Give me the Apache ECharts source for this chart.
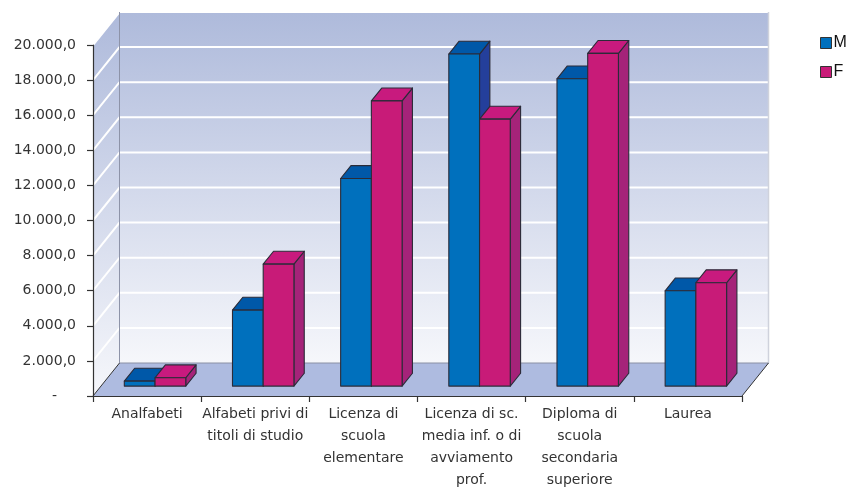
<!DOCTYPE html>
<html><head><meta charset="utf-8">
<script src="https://cdn.jsdelivr.net/npm/echarts@6/dist/echarts.min.js"></script>
<style>html,body{margin:0;padding:0;background:#fff}#c{width:848px;height:487px}</style>
</head><body><div id="c"></div>
<script>
const categories = ['Analfabeti', 'Alfabeti privi di\ntitoli di studio', 'Licenza di\nscuola\nelementare', 'Licenza di sc.\nmedia inf. o di\navviamento\nprof.', 'Diploma di\nscuola\nsecondaria\nsuperiore', 'Laurea'];
const seriesNames = ['M', 'F'];
const valuesM = [285, 4330, 11830, 18920, 17510, 5430];
const valuesF = [475, 6950, 16250, 15210, 18960, 5890];
const yTicks = [0, 2000, 4000, 6000, 8000, 10000, 12000, 14000, 16000, 18000, 20000];

const DEPTH = [26.5, -33];
const BAR_FRONT = 0.30, BAR_BACK = 0.69, BAR_W = 0.284;
const COLORS = {
  M: {front: '#0070BD', top: '#0058A8', side: '#243F9B'},
  F: {front: '#C81B78', top: '#C81A7E', side: '#A52379'}
};
const EDGE = '#2b2b38';

function fmt(v) {
  if (v === 0) return '{z|-}';
  const s = String(Math.round(v)).replace(/\B(?=(\d{3})+(?!\d))/g, '.');
  return s + ',0';
}

function renderWalls(params, api) {
  const cs = params.coordSys;
  const L = cs.x, R = cs.x + cs.width, T = cs.y, B = cs.y + cs.height;
  const dx = DEPTH[0], dy = DEPTH[1];
  const ch = [];
  const g1 = new echarts.graphic.LinearGradient(0, 0, 0, 1, [{offset: 0, color: '#AEBADB'}, {offset: 1, color: '#F6F7FB'}]);
  const g2 = new echarts.graphic.LinearGradient(0, 0, 0, 1, [{offset: 0, color: '#AEBADB'}, {offset: 1, color: '#F6F7FB'}]);
  ch.push({type: 'polygon', shape: {points: [[L, T], [L + dx, T + dy], [L + dx, B + dy], [L, B]]}, style: {fill: g1}});
  ch.push({type: 'rect', shape: {x: L + dx, y: T + dy, width: cs.width, height: cs.height}, style: {fill: g2}});
  yTicks.forEach(function (v) {
    if (v === 0) return;
    const y = api.coord([0, v])[1];
    ch.push({type: 'polyline', shape: {points: [[L, y], [L + dx, y + dy], [R + dx, y + dy]]}, style: {stroke: '#ffffff', lineWidth: 2, fill: null}});
  });
  ch.push({type: 'line', shape: {x1: L + dx, y1: T + dy, x2: L + dx, y2: B + dy}, style: {stroke: '#8d93a8', lineWidth: 1}});
  ch.push({type: 'line', shape: {x1: R + dx, y1: T + dy, x2: R + dx, y2: B + dy}, style: {stroke: '#cfd2dc', lineWidth: 1.5}});
  ch.push({type: 'polygon', shape: {points: [[L, B], [R, B], [R + dx, B + dy], [L + dx, B + dy]]}, style: {fill: '#AEBBE0'}});
  ch.push({type: 'line', shape: {x1: L + dx, y1: B + dy, x2: R + dx, y2: B + dy}, style: {stroke: '#8a90a4', lineWidth: 1}});
  ch.push({type: 'line', shape: {x1: L, y1: B, x2: L + dx, y2: B + dy}, style: {stroke: '#333', lineWidth: 1}});
  ch.push({type: 'line', shape: {x1: R, y1: B, x2: R + dx, y2: B + dy}, style: {stroke: '#333', lineWidth: 1}});
  return {type: 'group', children: ch};
}

function makeBarRenderer(name, side) {
  const c = COLORS[name];
  return function (params, api) {
    const i = api.value(0), v = api.value(1);
    const p0 = api.coord([i, 0]);
    const p1 = api.coord([i, v]);
    const cw = api.size([1, 0])[0];
    const bw = cw * BAR_W;
    const fx = BAR_FRONT * DEPTH[0], fy = BAR_FRONT * DEPTH[1];
    const ddx = (BAR_BACK - BAR_FRONT) * DEPTH[0], ddy = (BAR_BACK - BAR_FRONT) * DEPTH[1];
    const x0 = p0[0] + (side < 0 ? -bw : 0) + fx;
    const x1 = x0 + bw;
    const yb = p0[1] + fy, yt = p1[1] + fy;
    const st = {stroke: EDGE, lineWidth: 1.1, lineJoin: 'round'};
    return {type: 'group', children: [
      {type: 'polygon', shape: {points: [[x1, yt], [x1 + ddx, yt + ddy], [x1 + ddx, yb + ddy], [x1, yb]]}, style: Object.assign({fill: c.side}, st)},
      {type: 'polygon', shape: {points: [[x0, yt], [x1, yt], [x1 + ddx, yt + ddy], [x0 + ddx, yt + ddy]]}, style: Object.assign({fill: c.top}, st)},
      {type: 'rect', shape: {x: x0, y: yt, width: bw, height: yb - yt}, style: Object.assign({fill: c.front}, st)}
    ]};
  };
}

const chart = echarts.init(document.getElementById('c'), null, {renderer: 'canvas'});
chart.setOption({
  animation: false,
  backgroundColor: '#ffffff',
  textStyle: {fontFamily: 'DejaVu Sans'},
  grid: {left: 93, right: 106, top: 45, bottom: 91, containLabel: false, outerBoundsMode: 'none'},
  legend: {
    data: seriesNames, orient: 'vertical', left: 820, top: 35, padding: 0,
    itemWidth: 11, itemHeight: 11, itemGap: 13, icon: 'rect',
    itemStyle: {borderColor: '#333', borderWidth: 1},
    textStyle: {fontFamily: 'Liberation Sans', fontSize: 16, color: '#111', padding: [0, 0, 0, -3]}
  },
  xAxis: {
    type: 'category', data: categories, z: 5,
    axisLine: {lineStyle: {color: '#333', width: 1.2}},
    axisTick: {show: true, length: 6, lineStyle: {color: '#333', width: 1.2}},
    axisLabel: {interval: 0, fontSize: 14, lineHeight: 22, color: '#333', margin: 7, fontFamily: 'DejaVu Sans'},
    splitLine: {show: false}
  },
  yAxis: {
    type: 'value', min: 0, max: 20000, interval: 2000, z: 5,
    axisLine: {show: true, lineStyle: {color: '#333', width: 1.2}},
    axisTick: {show: true, length: 6, lineStyle: {color: '#333', width: 1.2}},
    axisLabel: {fontSize: 14, color: '#333', margin: 17, fontFamily: 'DejaVu Sans', formatter: fmt,
      rich: {z: {fontSize: 14, color: '#333', fontFamily: 'DejaVu Sans', padding: [0, 19, 0, 0]}}},
    splitLine: {show: false}
  },
  series: [
    {type: 'custom', name: 'walls', silent: true, clip: false, z: 1, renderItem: renderWalls, data: [[0, 0]]},
    {type: 'custom', name: 'M', clip: false, z: 2, itemStyle: {color: COLORS.M.front}, renderItem: makeBarRenderer('M', -1), data: valuesM.map(function (v, i) { return [i, v]; })},
    {type: 'custom', name: 'F', clip: false, z: 2, itemStyle: {color: COLORS.F.front}, renderItem: makeBarRenderer('F', 1), data: valuesF.map(function (v, i) { return [i, v]; })}
  ]
});
</script></body></html>
